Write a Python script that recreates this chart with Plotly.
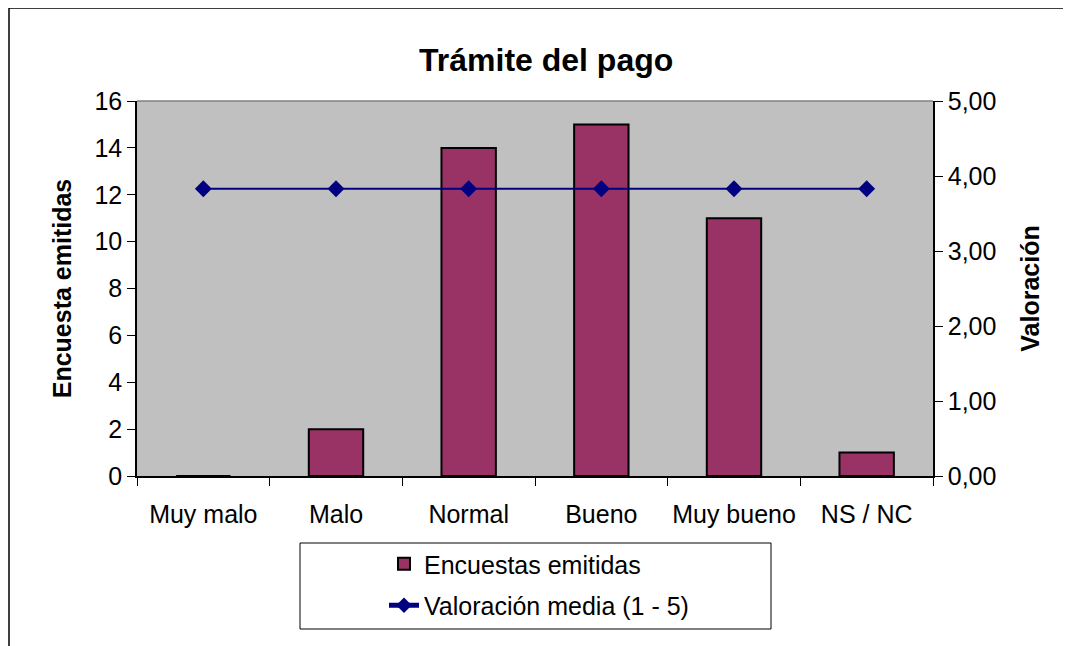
import plotly.graph_objects as go

categories = ["Muy malo", "Malo", "Normal", "Bueno", "Muy bueno", "NS / NC"]
encuestas = [0, 2, 14, 15, 11, 1]
valoracion = [3.83, 3.83, 3.83, 3.83, 3.83, 3.83]
left_ticks = [0, 2, 4, 6, 8, 10, 12, 14, 16]
right_ticks = [0, 1, 2, 3, 4, 5]

FONT = "Arial, Liberation Sans, sans-serif"
FS = 25

fig = go.Figure()
fig.add_trace(go.Bar(
    x=categories, y=encuestas, name="Encuestas emitidas",
    marker=dict(color="#993366", line=dict(color="black", width=2)),
    width=0.41, yaxis="y", legendgroup="a",
))
fig.add_trace(go.Scatter(
    x=categories, y=valoracion, name="Valoración media (1 - 5)",
    mode="lines+markers", yaxis="y2", legendgroup="b",
    line=dict(color="#000080", width=2),
    marker=dict(symbol="diamond", size=13, color="#000080"),
))

OFF = 8  # page body margin
W, H = 1063, 638
# plot area in screen coordinates
SL, SR, ST, SB = 137, 933, 101, 476
L, R, T, B = SL - OFF, SR - OFF, ST - OFF, SB - OFF
pw, ph = R - L, B - T

def px(x):
    return (x - OFF - L) / pw

def py(y):
    return (B - (y - OFF)) / ph

fig.update_layout(
    width=W, height=H,
    margin=dict(l=L, r=W - R, t=T, b=H - B, pad=0),
    paper_bgcolor="white", plot_bgcolor="#C0C0C0",
    separators=",.",
    font=dict(family=FONT, size=FS, color="black"),
    showlegend=True,
    xaxis=dict(
        type="category", showgrid=False, showline=True, linecolor="black", linewidth=1.5,
        ticks="outside", tickson="boundaries", ticklen=8, tickcolor="black", tickangle=0,
        ticklabelstandoff=15,
        tickfont=dict(size=FS, family=FONT), range=[-0.5, 5.5],
    ),
    yaxis=dict(
        range=[0, 16], tickvals=left_ticks, showgrid=False, zeroline=False,
        showline=True, linecolor="black", linewidth=1.5,
        ticks="outside", ticklen=8, tickcolor="black",
        tickfont=dict(size=FS, family=FONT),
        title=dict(text="<b>Encuesta emitidas</b>", font=dict(size=FS, family=FONT), standoff=16),
    ),
    yaxis2=dict(
        range=[0, 5], tickvals=right_ticks, tickformat=".2f", overlaying="y", side="right",
        showgrid=False, zeroline=False, showline=True, linecolor="black", linewidth=1.5,
        ticks="outside", ticklen=8, tickcolor="black",
        tickfont=dict(size=FS, family=FONT),
        title=dict(text="<b>Valoración</b>", font=dict(size=FS, family=FONT), standoff=26),
    ),
    legend=dict(
        x=px(384), y=py(541), xanchor="left", yanchor="top",
        bgcolor="rgba(0,0,0,0)", borderwidth=0, tracegroupgap=6,
        font=dict(size=FS, family=FONT), itemsizing="constant",
    ),
    annotations=[dict(
        text="<b>Trámite del pago</b>", x=px(546), y=py(60), xref="paper", yref="paper",
        showarrow=False, font=dict(size=32, family=FONT), xanchor="center", yanchor="middle",
    )],
    shapes=[
        dict(type="rect", xref="paper", yref="paper", x0=px(9), x1=px(1100), y0=py(700), y1=py(8),
             line=dict(color="black", width=1.5), fillcolor="rgba(0,0,0,0)", layer="below"),
        dict(type="line", xref="paper", yref="paper", x0=0, x1=1, y0=1, y1=1,
             line=dict(color="#808080", width=1.5)),
        dict(type="rect", xref="paper", yref="paper", x0=px(300), x1=px(771), y0=py(629), y1=py(543),
             line=dict(color="black", width=1), fillcolor="rgba(0,0,0,0)"),
    ],
)

fig.write_html("out.html")
